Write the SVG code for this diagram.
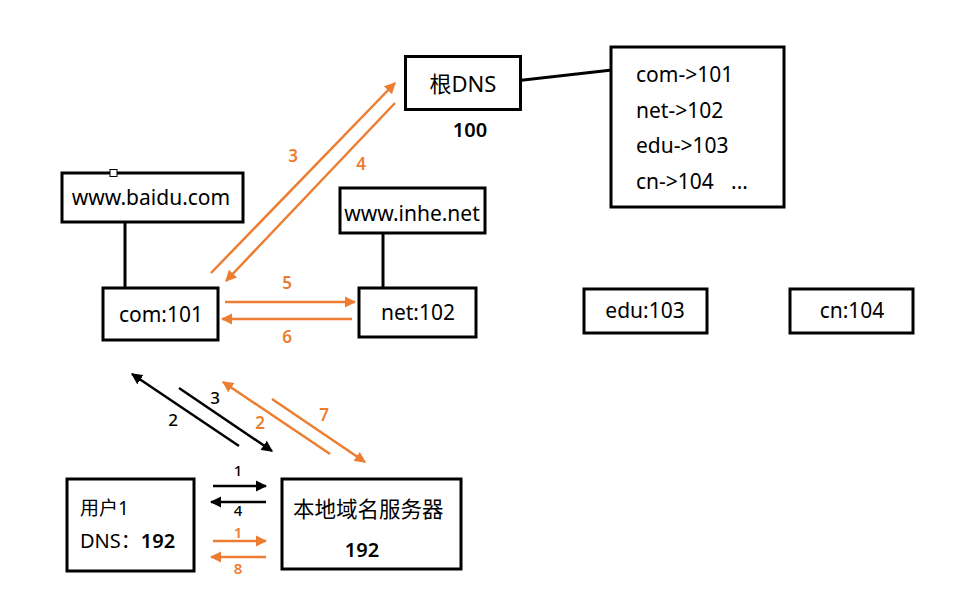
<svg xmlns="http://www.w3.org/2000/svg" width="953" height="614" viewBox="0 0 953 614">
<style>
text{font-family:"Noto Sans","Noto Sans CJK SC",sans-serif;fill:#000}
.box{fill:#fff;stroke:#000;stroke-width:3}
.t{font-size:21px}
.c{text-anchor:middle}
.lb{font-size:17px;text-anchor:middle;font-weight:500}
.sm{font-size:15px}
.o{fill:#ED7D31;font-weight:600}
.ol{stroke:#ED7D31;stroke-width:2.5;fill:none}
.bl{stroke:#000;stroke-width:2.5;fill:none}
.ln{stroke:#000;stroke-width:3;fill:none}
</style>
<defs>
<marker id="ao" viewBox="0 0 10 10" refX="9" refY="5" markerWidth="4.5" markerHeight="4.5" orient="auto" markerUnits="strokeWidth"><path d="M0,0 L10,5 L0,10 Z" fill="#ED7D31"/></marker>
<marker id="ab" viewBox="0 0 10 10" refX="9" refY="5" markerWidth="4.5" markerHeight="4.5" orient="auto" markerUnits="strokeWidth"><path d="M0,0 L10,5 L0,10 Z" fill="#000"/></marker>
</defs>
<rect width="953" height="614" fill="#fff"/>

<g id="links">
<line class="ln" x1="506" y1="82" x2="612" y2="70" stroke-width="5" stroke-linecap="round"/>
<line class="ln" x1="125" y1="222" x2="125" y2="298"/>
<line class="ln" x1="383" y1="233" x2="383" y2="296"/>
</g>

<g id="root-dns">
<rect class="box" x="405.5" y="56.5" width="115" height="53" stroke-width="5"/>
<text class="c" x="463" y="92" font-size="22px">根DNS</text>
<text class="c" x="470" y="137" font-size="20px" font-weight="600">100</text>
</g>

<g id="root-table">
<rect class="box" x="611" y="47" width="173" height="160"/>
<text class="t" x="636" y="82">com-&gt;101</text>
<text class="t" x="636" y="118">net-&gt;102</text>
<text class="t" x="636" y="153">edu-&gt;103</text>
<text class="t" x="636" y="189">cn-&gt;104<tspan x="731">...</tspan></text>
</g>

<g id="baidu">
<rect class="box" x="62" y="173" width="181" height="49"/>
<rect x="110" y="169.5" width="7" height="7" fill="#fff" stroke="#000" stroke-width="1"/>
<text class="t c" x="151" y="205">www.baidu.com</text>
</g>

<g id="inhe">
<rect class="box" x="340" y="188" width="145" height="45"/>
<text class="t c" x="412" y="221">www.inhe.net</text>
</g>

<g id="com">
<rect class="box" x="103" y="288" width="115" height="52"/>
<text class="t c" x="161" y="322">com:101</text>
</g>

<g id="net">
<rect class="box" x="359" y="288" width="117" height="49"/>
<text class="t c" x="418" y="320">net:102</text>
</g>

<g id="edu">
<rect class="box" x="584" y="289" width="123" height="44"/>
<text class="t c" x="645" y="318">edu:103</text>
</g>

<g id="cn">
<rect class="box" x="790" y="289" width="123" height="44"/>
<text class="t c" x="852" y="318">cn:104</text>
</g>

<g id="user">
<rect class="box" x="67" y="479" width="127" height="92" stroke-width="3.5"/>
<text x="80" y="515" font-size="19px">用户1</text>
<text x="80" y="548" font-size="20px">DNS：<tspan font-weight="600">192</tspan></text>
</g>

<g id="local-dns">
<rect class="box" x="282" y="479" width="179" height="90" stroke-width="3.5"/>
<text x="293" y="517" font-size="21.5px">本地域名服务器</text>
<text class="c" x="362" y="557" font-size="20px" font-weight="600">192</text>
</g>

<g id="connectors">
<line class="ol" x1="211" y1="273" x2="395" y2="83" marker-end="url(#ao)"/>
<line class="ol" x1="395" y1="103" x2="226" y2="281" marker-end="url(#ao)"/>
<line class="ol" x1="225" y1="302" x2="355" y2="302" marker-end="url(#ao)"/>
<line class="ol" x1="352" y1="319" x2="222" y2="319" marker-end="url(#ao)"/>
<line class="bl" x1="239" y1="446" x2="132" y2="374" marker-end="url(#ab)"/>
<line class="bl" x1="179" y1="388" x2="272" y2="451" marker-end="url(#ab)"/>
<line class="ol" x1="330" y1="454" x2="223" y2="382" marker-end="url(#ao)"/>
<line class="ol" x1="272" y1="399" x2="365" y2="462" marker-end="url(#ao)"/>
<line class="bl" x1="213" y1="486" x2="266" y2="486" marker-end="url(#ab)"/>
<line class="bl" x1="266" y1="502" x2="211" y2="502" marker-end="url(#ab)"/>
<line class="ol" x1="213" y1="541" x2="266" y2="541" marker-end="url(#ao)"/>
<line class="ol" x1="266" y1="557" x2="211" y2="557" marker-end="url(#ao)"/>
</g>

<g id="labels">
<text class="lb o" x="293" y="162">3</text>
<text class="lb o" x="361" y="170">4</text>
<text class="lb o" x="287" y="289">5</text>
<text class="lb o" x="287" y="343">6</text>
<text class="lb" x="173" y="426">2</text>
<text class="lb" x="215" y="404">3</text>
<text class="lb o" x="260" y="429">2</text>
<text class="lb o" x="324" y="421">7</text>
<text class="lb sm" x="238" y="476">1</text>
<text class="lb sm" x="238" y="516">4</text>
<text class="lb o sm" x="238" y="538">1</text>
<text class="lb o sm" x="238" y="574">8</text>
</g>
</svg>
